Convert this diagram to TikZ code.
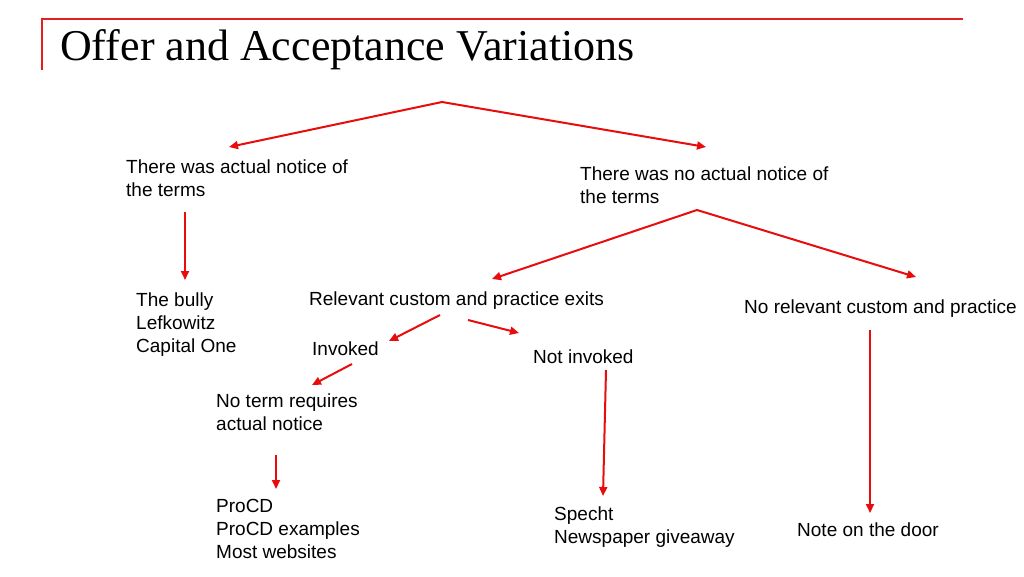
\documentclass[tikz,border=0pt]{standalone}
\usepackage{fontspec}
\setmainfont{Liberation Sans}
\newfontfamily\titlefont{Liberation Serif}
\usetikzlibrary{arrows.meta}
\definecolor{arrred}{RGB}{232,12,12}
\definecolor{rulered}{RGB}{230,30,30}
\begin{document}
\begin{tikzpicture}[x=1pt,y=-1pt,
  lbl/.style={anchor=west,inner sep=0pt,align=left,font=\fontsize{19}{23}\selectfont},
  arr/.style={draw=arrred,line width=2pt,-{Triangle[length=9pt,width=8pt]}}]
\useasboundingbox[fill=white] (0,0) rectangle (1024,576);
% title frame
\draw[rulered,line width=1.5pt] (42,70) -- (42,19) -- (963,19);
\node[anchor=base west,inner sep=0pt,font=\titlefont\fontsize{44}{46}\selectfont] (title) at (60,60) {Offer and Acceptance Variations};
% labels
\node[lbl] (actual) at (126,178) {There was actual notice of\\the terms};
\node[lbl] (noactual) at (580,185) {There was no actual notice of\\the terms};
\node[lbl] (bully) at (136,324.5) {The bully\\Lefkowitz\\Capital One};
\node[lbl] (custom) at (309,300.5) {Relevant custom and practice exits};
\node[lbl] (nocustom) at (744,308.5) {No relevant custom and practice};
\node[lbl] (invoked) at (312,348.5) {Invoked};
\node[lbl] (notinvoked) at (533,356.5) {Not invoked};
\node[lbl] (noterm) at (216,412) {No term requires\\actual notice};
\node[lbl] (procd) at (216,528.5) {ProCD\\ProCD examples\\Most websites};
\node[lbl] (specht) at (554,527) {Specht\\Newspaper giveaway};
\node[lbl] (door) at (797,529.5) {Note on the door};
% connector coordinates
\coordinate (root) at (442,102);
\coordinate (a1) at (229,147);
\coordinate (a2) at (706,147);
\coordinate (b0) at (185,212);
\coordinate (b1) at (185,280);
\coordinate (c0) at (697,210);
\coordinate (c1) at (492,279);
\coordinate (c2) at (916,277);
\coordinate (d0) at (440,315);
\coordinate (d1) at (389,341);
\coordinate (e0) at (468,320);
\coordinate (e1) at (519,333);
\coordinate (f0) at (352,364);
\coordinate (f1) at (312,385);
\coordinate (g0) at (276,455);
\coordinate (g1) at (276,489);
\coordinate (h0) at (606,370);
\coordinate (h1) at (603,496);
\coordinate (k0) at (870,330);
\coordinate (k1) at (870,513);
% connectors
\draw[arr] (root) -- (a1);
\draw[arr] (root) -- (a2);
\draw[arr] (b0) -- (b1);
\draw[arr] (c0) -- (c1);
\draw[arr] (c0) -- (c2);
\draw[arr] (d0) -- (d1);
\draw[arr] (e0) -- (e1);
\draw[arr] (f0) -- (f1);
\draw[arr] (g0) -- (g1);
\draw[arr] (h0) -- (h1);
\draw[arr] (k0) -- (k1);
\end{tikzpicture}
\end{document}
